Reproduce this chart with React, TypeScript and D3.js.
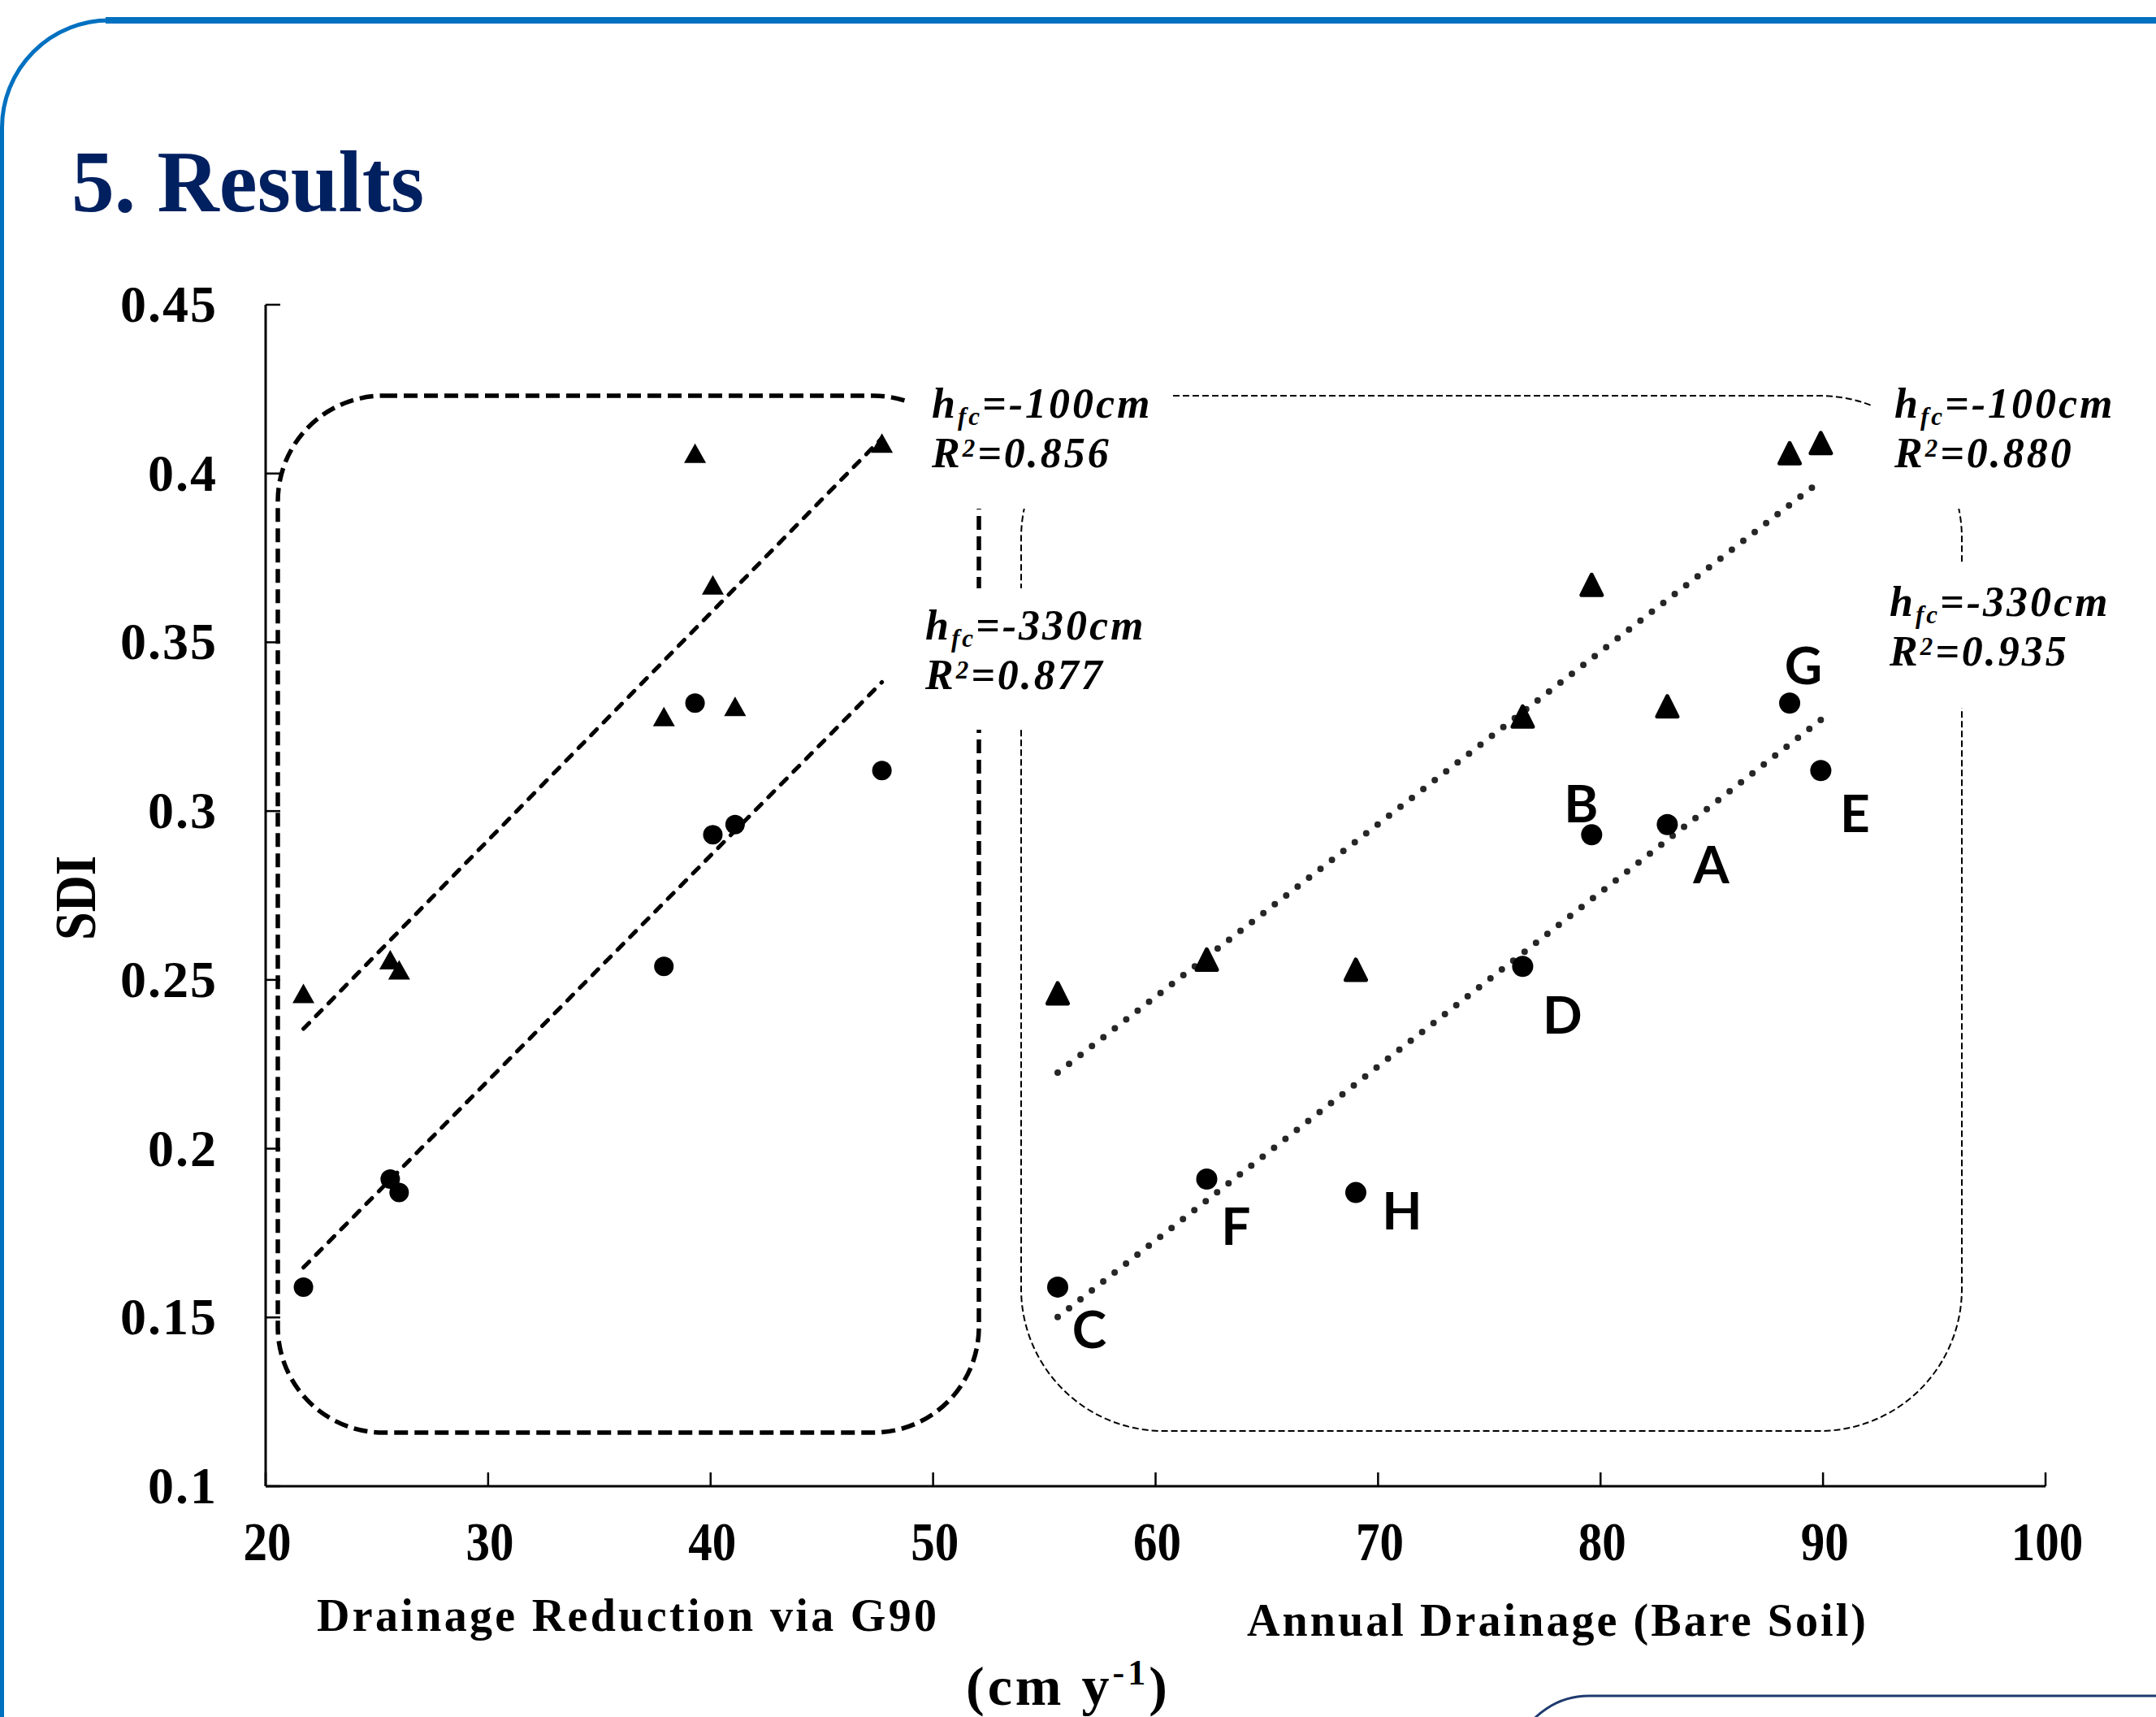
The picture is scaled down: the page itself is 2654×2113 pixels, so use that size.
import React, { useEffect } from 'react';
import * as d3 from 'd3';

// ---- data ----
const sites = ['C', 'F', 'H', 'D', 'B', 'A', 'G', 'E'];
const g90Reduction = [21.7, 25.6, 26.0, 37.9, 40.1, 41.1, 39.3, 47.7];
const bareSoilDrainage = [55.6, 62.3, 69.0, 76.5, 79.6, 83.0, 88.5, 89.9];
const sdiHfc100 = [0.246, 0.256, 0.253, 0.328, 0.367, 0.331, 0.406, 0.409];
const sdiHfc330 = [0.159, 0.191, 0.187, 0.254, 0.293, 0.296, 0.332, 0.312];
const xTicks = [20, 30, 40, 50, 60, 70, 80, 90, 100];
const yTicks = [0.1, 0.15, 0.2, 0.25, 0.3, 0.35, 0.4, 0.45];
const fitLeft = [{ hfc: '=-100cm', r2: '=0.856' }, { hfc: '=-330cm', r2: '=0.877' }];
const fitRight = [{ hfc: '=-100cm', r2: '=0.880' }, { hfc: '=-330cm', r2: '=0.935' }];
const xTitleLeft = 'Drainage Reduction via G90';
const xTitleRight = 'Annual Drainage (Bare Soil)';
const yTitle = 'SDI';
const title = '5. Results';

// ---- layout (not data) ----
const W = 2654, H = 2113;
const labelOffsets: Record<string, [number, number]> = {
  C: [39, 75], F: [36, 81], H: [57, 45], D: [49, 83], B: [-13, -15], A: [54, 72], G: [17, -23], E: [42, 76],
};
const SERIF = '"Liberation Serif", "Times New Roman", serif';
const SANS = 'Lato, "Open Sans", sans-serif';

function linreg(xs: number[], ys: number[]) {
  const mx = d3.mean(xs)!, my = d3.mean(ys)!;
  let sxy = 0, sxx = 0;
  xs.forEach((x, i) => { sxy += (x - mx) * (ys[i] - my); sxx += (x - mx) ** 2; });
  const b = sxy / sxx;
  return (x: number) => my + b * (x - mx);
}

function tri(w: number, h: number) {
  return `M0,${-h / 2}L${w / 2},${h / 2}L${-w / 2},${h / 2}Z`;
}

function roundRectPath(x0: number, y0: number, x1: number, y1: number, r: number) {
  const p = d3.path();
  p.moveTo(x0 + r, y0);
  p.lineTo(x1 - r, y0);
  p.arcTo(x1, y0, x1, y0 + r, r);
  p.lineTo(x1, y1 - r);
  p.arcTo(x1, y1, x1 - r, y1, r);
  p.lineTo(x0 + r, y1);
  p.arcTo(x0, y1, x0, y1 - r, r);
  p.lineTo(x0, y0 + r);
  p.arcTo(x0, y0, x0 + r, y0, r);
  p.closePath();
  return p.toString();
}

function FitLabel({ x, y, hfc, r2 }: { x: number; y: number; hfc: string; r2: string }) {
  return (
    <g fontFamily={SERIF} fontWeight="bold" fontStyle="italic" fontSize={52} fill="#000" letterSpacing={3}>
      <text x={x} y={y}>
        <tspan>h</tspan>
        <tspan fontSize={31} dy={9}>fc</tspan>
        <tspan dy={-9}>{hfc}</tspan>
      </text>
      <text x={x} y={y + 61}>
        <tspan>R</tspan>
        <tspan fontSize={31} dy={-13}>2</tspan>
        <tspan dy={13}>{r2}</tspan>
      </text>
    </g>
  );
}

export default function App() {
  useEffect(() => {
    document.body.style.margin = '0';
    document.body.style.overflow = 'hidden';
  }, []);

  const x = d3.scaleLinear().domain([20, 100]).range([327, 2518]);
  const y = d3.scaleLinear().domain([0.1, 0.45]).range([1829, 375]);

  const fits = [
    { xs: g90Reduction, ys: sdiHfc100, kind: 'dash' },
    { xs: g90Reduction, ys: sdiHfc330, kind: 'dash' },
    { xs: bareSoilDrainage, ys: sdiHfc100, kind: 'dot' },
    { xs: bareSoilDrainage, ys: sdiHfc330, kind: 'dot' },
  ].map((f) => {
    const fn = linreg(f.xs, f.ys);
    const [a, b] = d3.extent(f.xs) as [number, number];
    const line = d3.line<number>().x((v) => x(v)).y((v) => y(fn(v)));
    return { d: line([a, b])!, kind: f.kind };
  });

  const framePath = (() => {
    const p = d3.path();
    p.moveTo(2.5, H);
    p.lineTo(2.5, 160);
    p.arcTo(2.5, 25, 135, 25, 132);
    p.lineTo(W, 25);
    return p.toString();
  })();

  const navyPath = (() => {
    const p = d3.path();
    p.moveTo(1874, H + 20);
    p.arcTo(1874 + 20, 2087, 1990, 2087, 94);
    p.lineTo(W, 2087);
    return p.toString();
  })();

  return (
    <div style={{ position: 'fixed', left: 0, top: 0, width: W, height: H, background: '#fff' }}>
      <svg width={W} height={H} viewBox={`0 0 ${W} ${H}`} style={{ display: 'block' }}>
        <rect width={W} height={H} fill="#fff" />
        {/* frame */}
        <path d={framePath} fill="none" stroke="#0070C0" strokeWidth={5} />
        <rect x={130} y={21} width={W - 130} height={8} fill="#0070C0" />
        <path d={navyPath} fill="none" stroke="#1F3A6E" strokeWidth={3} />

        {/* title */}
        <text x={88} y={260} fontFamily={SERIF} fontWeight="bold" fontSize={107} fill="#002060" textLength={434} lengthAdjust="spacingAndGlyphs">{title}</text>

        {/* grouping boxes */}
        <path d={roundRectPath(342, 487, 1205, 1763, 130)} fill="none" stroke="#000" strokeWidth={5.5} strokeDasharray="17 8" />
        <path d={roundRectPath(1257, 487, 2415, 1761, 175)} fill="none" stroke="#000" strokeWidth={2} strokeDasharray="8 4" />

        {/* label backgrounds */}
        <rect x={1115} y={462} width={325} height={164} fill="#fff" />
        <rect x={1115} y={724} width={325} height={174} fill="#fff" />
        <rect x={2303} y={497} width={320} height={129} fill="#fff" />
        <rect x={2303} y={695} width={320} height={176} fill="#fff" />

        {/* axes */}
        <line x1={x(20)} x2={x(100)} y1={y(0.1)} y2={y(0.1)} stroke="#000" strokeWidth={3} />
        <line x1={x(20)} x2={x(20)} y1={y(0.1)} y2={y(0.45)} stroke="#000" strokeWidth={3} />
        {xTicks.map((t) => (
          <g key={`xt${t}`}>
            <line x1={x(t)} x2={x(t)} y1={y(0.1)} y2={y(0.1) - 17} stroke="#000" strokeWidth={2.5} />
            <text x={x(t) + 2} y={1920} textAnchor="middle" fontFamily={SERIF} fontWeight="bold" fontSize={68}
              textLength={String(t).length * 29.5} lengthAdjust="spacingAndGlyphs">{t}</text>
          </g>
        ))}
        {yTicks.map((t) => (
          <g key={`yt${t}`}>
            <line x1={x(20)} x2={x(20) + 18} y1={y(t)} y2={y(t)} stroke="#000" strokeWidth={2.5} />
            <text x={268} y={y(t) + 21} textAnchor="end" fontFamily={SERIF} fontWeight="bold" fontSize={64} letterSpacing={2}>{String(t)}</text>
          </g>
        ))}

        {/* axis titles */}
        <text transform="translate(117,1105) rotate(-90)" textAnchor="middle" fontFamily={SERIF} fontWeight="bold" fontSize={72}
          textLength={104} lengthAdjust="spacingAndGlyphs">{yTitle}</text>
        <text x={390} y={2007} fontFamily={SERIF} fontWeight="bold" fontSize={56} textLength={763} lengthAdjust="spacing">{xTitleLeft}</text>
        <text x={1535} y={2013} fontFamily={SERIF} fontWeight="bold" fontSize={56} textLength={762} lengthAdjust="spacing">{xTitleRight}</text>
        <text x={1189} y={2098} fontFamily={SERIF} fontWeight="bold" fontSize={68} letterSpacing={4}>
          <tspan>(cm y</tspan>
          <tspan fontSize={44} dy={-25}>-1</tspan>
          <tspan dy={25}>)</tspan>
        </text>

        {/* fit lines */}
        {fits.map((f, i) => f.kind === 'dash' ? (
          <path key={`f${i}`} d={f.d} fill="none" stroke="#000" strokeWidth={5} strokeDasharray="10 12" strokeLinecap="round" />
        ) : (
          <path key={`f${i}`} d={f.d} fill="none" stroke="#262626" strokeWidth={8} strokeDasharray="0 17.8" strokeLinecap="round" />
        ))}

        {/* left panel markers */}
        {sites.map((s, i) => (
          <g key={`l${s}`}>
            <path d={tri(27, 24)} transform={`translate(${x(g90Reduction[i])},${y(sdiHfc100[i])})`} fill="#000" />
            <circle cx={x(g90Reduction[i])} cy={y(sdiHfc330[i])} r={12} fill="#000" />
          </g>
        ))}
        {/* right panel markers */}
        {sites.map((s, i) => (
          <g key={`r${s}`}>
            <path d={tri(25, 25)} transform={`translate(${x(bareSoilDrainage[i])},${y(sdiHfc100[i])})`} fill="#000" stroke="#000" strokeWidth={5} strokeLinejoin="round" />
            <circle cx={x(bareSoilDrainage[i])} cy={y(sdiHfc330[i])} r={13} fill="#000" />
            <text x={x(bareSoilDrainage[i]) + labelOffsets[s][0]} y={y(sdiHfc330[i]) + labelOffsets[s][1]} textAnchor="middle"
              fontFamily={SANS} fontWeight="bold" fontSize={64} fill="#000">{s}</text>
          </g>
        ))}

        {/* fit labels */}
        <FitLabel x={1147} y={514} hfc={fitLeft[0].hfc} r2={fitLeft[0].r2} />
        <FitLabel x={1139} y={787} hfc={fitLeft[1].hfc} r2={fitLeft[1].r2} />
        <FitLabel x={2332} y={514} hfc={fitRight[0].hfc} r2={fitRight[0].r2} />
        <FitLabel x={2326} y={758} hfc={fitRight[1].hfc} r2={fitRight[1].r2} />
      </svg>
    </div>
  );
}
